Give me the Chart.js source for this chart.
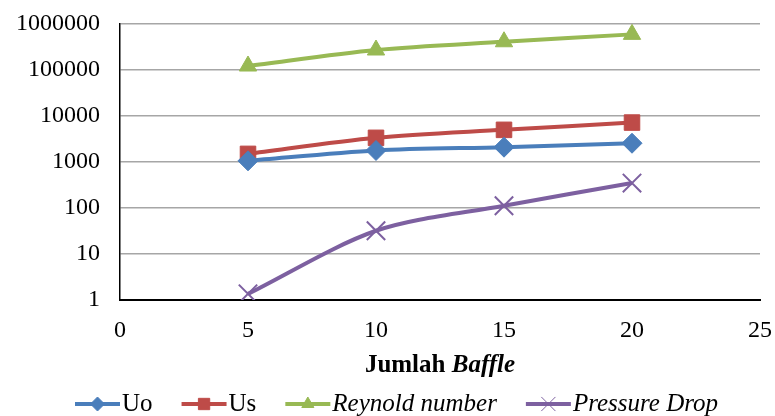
<!DOCTYPE html>
<html>
<head>
    <title>Jumlah Baffle</title>
    <script src="https://cdn.jsdelivr.net/npm/chart.js"></script>
    <style>
        body { margin: 0; background: #fff; }
        #wrap { width: 775px; height: 416px; }
    </style>
</head>
<body>
<div id="wrap"><canvas id="baffleChart" width="775" height="416"></canvas></div>
<script>
    // data
    const baffles = [5, 10, 15, 20];
    const uo = [1060, 1780, 2100, 2560];
    const us = [1500, 3350, 5000, 7200];
    const reynold = [122000, 272000, 411000, 595000];
    const pressureDrop = [1.36, 32, 112, 349];
    const xTicks = [0, 5, 10, 15, 20, 25];
    const yTicks = [1, 10, 100, 1000, 10000, 100000, 1000000];

    const FONT = '"Liberation Serif", "Times New Roman", serif';

    const series = [
        { label: 'Uo', data: uo, color: '#4a7ebb', style: 'rectRot', radius: 10, legendRadius: 7, italic: false },
        { label: 'Us', data: us, color: '#be4b48', style: 'rect', radius: 11, legendRadius: 8, italic: false },
        { label: 'Reynold number', data: reynold, color: '#98b954', style: 'triangle', radius: 10, legendRadius: 7, italic: true },
        { label: 'Pressure Drop', data: pressureDrop, color: '#7d60a0', style: 'crossRot', radius: 13, legendRadius: 10, italic: true }
    ];

    function toPoints(values) {
        return baffles.map((b, i) => ({ x: b, y: values[i] }));
    }

    // axis title + legend drawn below the plot (mixed bold / italic text)
    const bottomText = {
        id: 'bottomText',
        afterDraw(chart) {
            const ctx = chart.ctx;
            const area = chart.chartArea;
            ctx.save();
            ctx.textBaseline = 'middle';
            ctx.textAlign = 'left';

            // "Jumlah Baffle"
            const titleY = area.bottom + 66;
            ctx.font = 'bold 25px ' + FONT;
            const w1 = ctx.measureText('Jumlah ').width;
            ctx.font = 'italic bold 25px ' + FONT;
            const w2 = ctx.measureText('Baffle').width;
            const tx = (area.left + area.right) / 2 - (w1 + w2) / 2;
            ctx.fillStyle = '#000';
            ctx.font = 'bold 25px ' + FONT;
            ctx.fillText('Jumlah ', tx, titleY);
            ctx.font = 'italic bold 25px ' + FONT;
            ctx.fillText('Baffle', tx + w1, titleY);

            // legend
            const legY = area.bottom + 104;
            let x = 75;
            series.forEach(s => {
                ctx.strokeStyle = s.color;
                ctx.fillStyle = s.color;
                ctx.lineWidth = 4;
                ctx.beginPath();
                ctx.moveTo(x, legY);
                ctx.lineTo(x + 45, legY);
                ctx.stroke();
                ctx.lineWidth = 1;
                Chart.helpers.drawPoint(ctx, {
                    pointStyle: s.style,
                    radius: s.legendRadius,
                    borderWidth: s.style === 'crossRot' ? 1.5 : 1,
                    rotation: 0
                }, x + 22.5, legY);
                ctx.fillStyle = '#000';
                ctx.font = (s.italic ? 'italic ' : '') + '25px ' + FONT;
                ctx.fillText(s.label, x + 47, legY);
                x += 47 + ctx.measureText(s.label).width + 29;
            });
            ctx.restore();
        }
    };

    new Chart(document.getElementById('baffleChart').getContext('2d'), {
        type: 'line',
        data: {
            datasets: series.map(s => ({
                label: s.label,
                data: toPoints(s.data),
                borderColor: s.color,
                backgroundColor: s.color,
                borderWidth: 4,
                pointStyle: s.style,
                pointRadius: s.radius,
                pointBorderWidth: s.style === 'crossRot' ? 2 : 1,
                pointBackgroundColor: s.color,
                pointBorderColor: s.color,
                tension: 0.3,
                fill: false
            }))
        },
        options: {
            responsive: false,
            animation: false,
            layout: { padding: { top: 24, right: 14, bottom: 76, left: 0 } },
            plugins: {
                legend: { display: false },
                tooltip: { enabled: false }
            },
            scales: {
                x: {
                    type: 'linear',
                    min: 0,
                    max: 25,
                    afterBuildTicks: s => { s.ticks = xTicks.map(v => ({ value: v })); },
                    afterFit: s => { s.height = 40; s.paddingLeft = 0; s.paddingRight = 0; },
                    grid: { display: false, drawTicks: false },
                    border: { display: true, color: '#000', width: 2 },
                    ticks: { color: '#000', padding: 16, font: { family: FONT, size: 24 } }
                },
                y: {
                    type: 'logarithmic',
                    min: 1,
                    max: 1000000,
                    afterBuildTicks: s => { s.ticks = yTicks.map(v => ({ value: v })); },
                    afterFit: s => { s.width = 120; s.paddingTop = 0; s.paddingBottom = 0; },
                    grid: { color: '#a6a6a6', lineWidth: 1.5, drawTicks: false },
                    border: { display: true, color: '#000', width: 1.5 },
                    ticks: {
                        color: '#000',
                        padding: 20,
                        font: { family: FONT, size: 24 },
                        callback: v => String(v)
                    }
                }
            }
        },
        plugins: [bottomText]
    });
</script>
</body>
</html>
